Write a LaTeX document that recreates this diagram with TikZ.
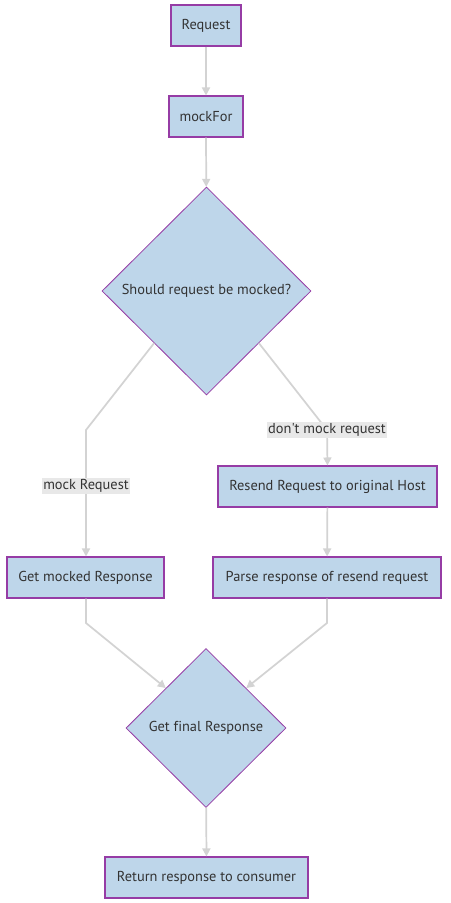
\documentclass[tikz,border=0pt]{standalone}
\usepackage{fontspec}
\setmainfont{PT Sans}[Ligatures={TeXOff,NoCommon}]
\usetikzlibrary{shapes.geometric,arrows.meta}
\definecolor{boxfill}{RGB}{190,214,234}
\definecolor{boxline}{RGB}{150,60,165}
\definecolor{edgegray}{RGB}{211,211,211}
\definecolor{lblfill}{RGB}{232,232,232}
\definecolor{txt}{RGB}{51,51,51}
\tikzset{
    box/.style={rectangle,draw=boxline,fill=boxfill,thick,text=txt,inner sep=0pt,minimum height=41*0.75pt},
    choice/.style={diamond,draw=boxline,fill=boxfill,semithick,text=txt,inner sep=0pt},
    flow/.style={draw=edgegray,line width=1.3pt,-{Triangle[length=6pt,width=6pt]}},
    lbl/.style={fill=lblfill,text=txt,inner sep=1pt}
}
\begin{document}
\begin{tikzpicture}[x=0.75pt,y=-0.75pt,font=\fontsize{10.8}{13}\selectfont]
            \useasboundingbox (0,0) rectangle (450,903);
            \begin{scope}
                \node (req)[box,minimum width=70*0.75pt] at (206,25.5) {Request};
                \node (mock)[box,minimum width=74*0.75pt] at (206,116.5) {mockFor};
                \node (ask)[choice,minimum width=209*0.75pt,minimum height=208*0.75pt] at (206.5,291) {Should request be mocked?};
                \node (resend)[box,minimum width=219*0.75pt] at (327.5,486.5) {Resend Request to original Host};
                \node (gotmock)[box,minimum width=157*0.75pt] at (85.5,577.5) {Get mocked Response};
                \node (parse)[box,minimum width=228*0.75pt] at (327,577.5) {Parse response of resend request};
                \node (final)[choice,minimum width=160*0.75pt,minimum height=159*0.75pt] at (206,728) {Get final Response};
                \node (ret)[box,minimum width=203*0.75pt] at (206.5,877.5) {Return response to consumer};
            \end{scope}

            % bends
            \coordinate (lbend) at (86,430);
            \coordinate (rbend) at (327,430);
            \coordinate (lbend2) at (86,623);
            \coordinate (rbend2) at (327,623);

            \begin{scope}
                \path [flow] (req) -- (mock);
                \path [flow] (mock) -- (ask);
                \path [flow] (ask.south west) -- (lbend) -- (lbend |- gotmock.north);
                \path [flow] (ask.south east) -- (rbend) -- (resend.north);
                \path [flow] (resend) -- (parse);
                \path [flow] (gotmock.south -| lbend2) -- (lbend2) -- (final.north west);
                \path [flow] (parse.south) -- (rbend2) -- (final.north east);
                \path [flow] (final) -- (ret);
            \end{scope}

            \node (lmock)[lbl] at (86,486) {mock Request};
            \node (lnomock)[lbl] at (327,430) {don't mock request};
\end{tikzpicture}
\end{document}
